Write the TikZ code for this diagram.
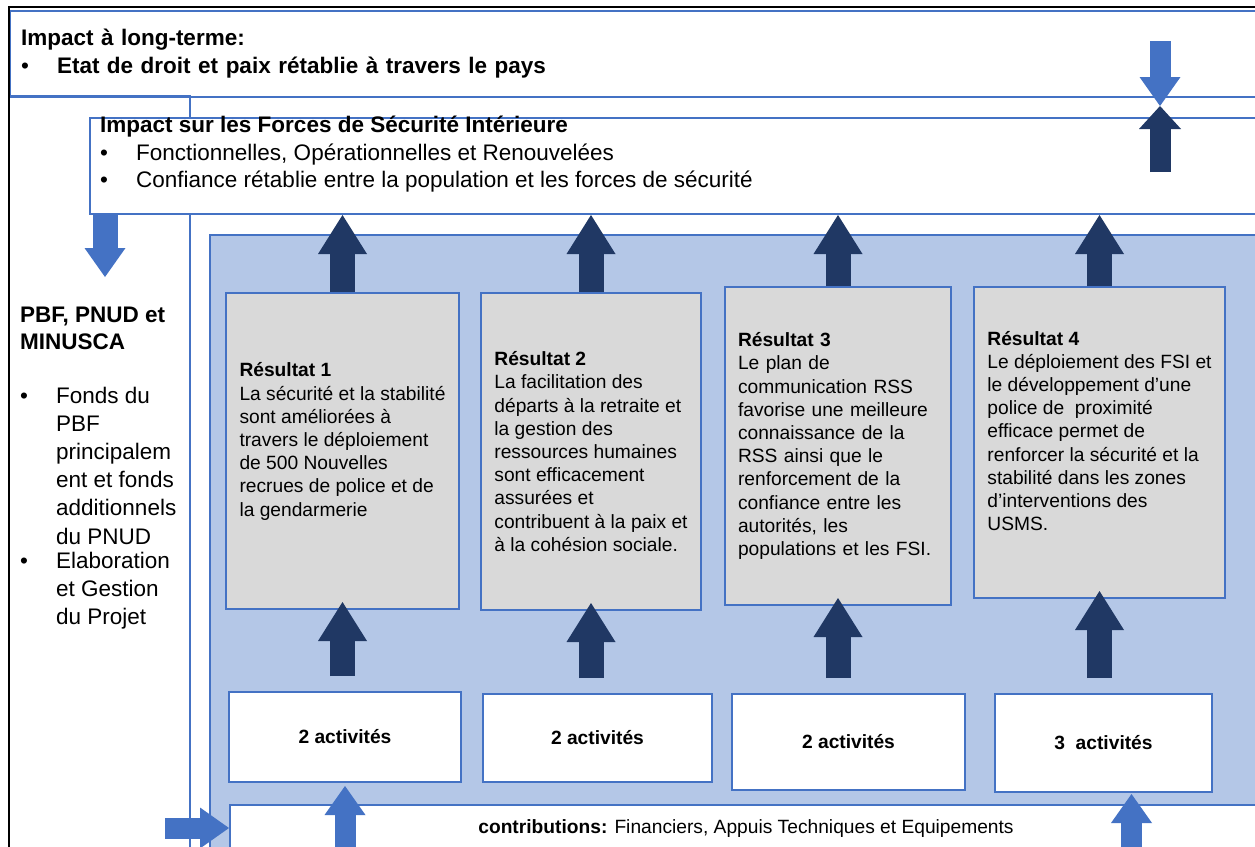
\documentclass[tikz,border=0pt]{standalone}
\usepackage{fontspec}
\setmainfont{Liberation Sans}
\usetikzlibrary{arrows.meta,calc}
\definecolor{lineblue}{HTML}{4472C4}
\definecolor{darknavy}{HTML}{203864}
\definecolor{areablue}{HTML}{B4C7E7}
\definecolor{resgray}{HTML}{D9D9D9}
\newcommand\fsbig{\fontsize{22.5}{27.5}\selectfont}
\newcommand\fssmall{\fontsize{19.2}{23.2}\selectfont}
\newcommand\bul{\makebox[36pt][l]{\textbullet}}
\newcommand\ind{\hspace*{36pt}}
\begin{document}
\begin{tikzpicture}[x=1pt,y=-1pt,
  box/.style={draw=lineblue,line width=2pt,fill=white,inner sep=0pt},
  resbox/.style={box,fill=resgray,align=left,font=\fssmall},
  actbox/.style={box,font=\fssmall\bfseries},
  navyarrow/.style={draw=darknavy,line width=25pt,-{Triangle[width=49pt,length=39pt,line width=0pt]}},
  bluearrow/.style={draw=lineblue,line width=21pt,-{Triangle[width=41pt,length=29pt,line width=0pt]}}]
\useasboundingbox (0,0) rectangle (1255,846);
\clip (0,0) rectangle (1255,846);
\node[box,anchor=north west,minimum height=86pt,text width=1240pt,inner xsep=11pt,align=left,font=\fsbig] (longterm) at (9,9.5) {\textbf{Impact à long-terme:}\\\bul\textbf{Etat de droit et paix rétablie à travers le pays}};
\draw[draw=lineblue,line width=2pt] (9,95.5) rectangle (190,900);
\node[box,anchor=north west,minimum width=1180pt,minimum height=96pt] (fsi) at (89,117) {};
\node[anchor=north west,align=left,inner sep=0pt,font=\fsbig] (fsitext) at (100,116) {\textbf{Impact sur les Forces de Sécurité Intérieure}\\\bul Fonctionnelles, Opérationnelles et Renouvelées\\\bul Confiance rétablie entre la population et les forces de sécurité};
\node[anchor=north west,align=left,inner sep=0pt,font=\fontsize{22.5}{28.2}\selectfont] (funds) at (20,307) {\textbf{PBF, PNUD et}\\[-1pt]\textbf{MINUSCA}\\[25pt]\bul Fonds du\\\ind PBF\\\ind principalem\\\ind ent et fonds\\\ind additionnels\\\ind du PNUD\\[-4pt]\bul Elaboration\\\ind et Gestion\\\ind du Projet};
\draw[draw=lineblue,fill=areablue,line width=2pt] (210,235) rectangle (1275,900);
\node[resbox,minimum width=233pt,minimum height=316pt] (r1) at (342.5,451) {\textbf{Résultat 1}\\La sécurité et la stabilité\\sont améliorées à\\travers le déploiement\\de 500 Nouvelles\\recrues de police et de\\la gendarmerie\\\mbox{}};
\node[resbox,minimum width=220pt,minimum height=317pt] (r2) at (591,451.5) {\textbf{Résultat 2}\\La facilitation des\\départs à la retraite et\\la gestion des\\ressources humaines\\sont efficacement\\assurées et\\contribuent à la paix et\\à la cohésion sociale.};
\node[resbox,minimum width=226pt,minimum height=318pt,text width=200pt] (r3) at (838,446) {\textbf{Résultat 3}\\Le plan de\\communication RSS\\favorise une meilleure\\connaissance de la\\RSS ainsi que le\\renforcement de la\\confiance entre les\\autorités, les\\populations et les FSI.};
\node[resbox,minimum width=251pt,minimum height=311pt] (r4) at (1099.5,442.5) {\textbf{Résultat 4}\\Le déploiement des FSI et\\le développement d’une\\police de\ \ proximité\\efficace permet de\\renforcer la sécurité et la\\stabilité dans les zones\\d’interventions des\\USMS.\\\mbox{}};
\node[actbox,minimum width=232pt,minimum height=90pt] (a1) at (345,737) {2 activités};
\node[actbox,minimum width=229pt,minimum height=88pt] (a2) at (597.5,738) {2 activités};
\node[actbox,minimum width=233pt,minimum height=96pt] (a3) at (848.5,742) {2 activités};
\node[actbox,minimum width=217pt,minimum height=98pt] (a4) at (1103.5,743) {3\ \ activités};
\node[box,anchor=north west,minimum width=1032pt,minimum height=48pt,font=\fssmall] (contrib) at (229,804) {\textbf{contributions:} Financiers, Appuis Techniques et Equipements};
\draw[navyarrow] (r1.north) -- (r1.north |- fsi.south);
\draw[navyarrow] (r2.north) -- (r2.north |- fsi.south);
\draw[navyarrow] (r3.north) -- (r3.north |- fsi.south);
\draw[navyarrow] (r4.north) -- (r4.north |- fsi.south);
\draw[navyarrow,shorten <=15pt,shorten >=-8pt] (a1.north -| r1.south) -- (r1.south);
\draw[navyarrow,shorten <=15pt,shorten >=-8pt] (a2.north -| r2.south) -- (r2.south);
\draw[navyarrow,shorten <=15pt,shorten >=-8pt] (a3.north -| r3.south) -- (r3.south);
\draw[navyarrow,shorten <=15pt,shorten >=-8pt] (a4.north -| r4.south) -- (r4.south);
\draw[bluearrow,shorten >=3pt] (a1.south |- contrib.south) -- (a1.south);
\coordinate (feed) at ($(a4.south)+(28,0)$);
\draw[bluearrow,shorten >=1pt] (feed |- contrib.south) -- (feed);
\coordinate (fundtip) at (105,277);
\draw[bluearrow,line width=25pt] (fundtip |- fsi.south) -- (fundtip);
\coordinate (fundsrc) at (165,828);
\draw[bluearrow] (fundsrc) -- (fundsrc -| contrib.west);
\coordinate (meet) at (1160,106);
\coordinate (ltsrc) at (1160,41);
\coordinate (fsisrc) at (1160,172);
\draw[bluearrow] (ltsrc) -- (meet);
\draw[draw=darknavy,line width=21pt,-{Triangle[width=42pt,length=23pt,line width=0pt]}] (fsisrc) -- (meet);
\draw[line width=2pt] (9,900) |- (1275,6.5);
\end{tikzpicture}
\end{document}
